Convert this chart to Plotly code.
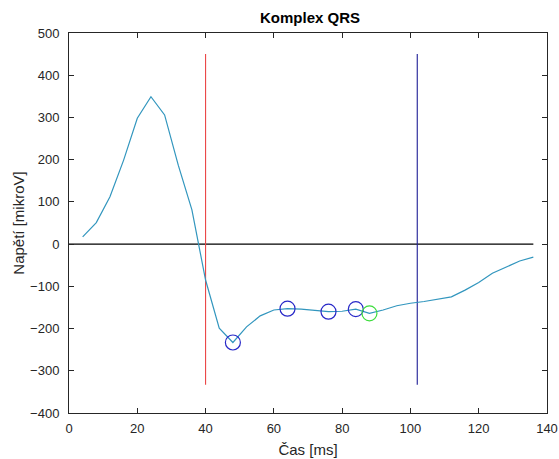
import plotly.graph_objects as go

# ECG QRS complex samples (time in ms, voltage in microvolts)
time_ms = [4, 8, 12, 16, 20, 24, 28, 32, 36, 40, 44, 48, 52, 56, 60, 64, 68, 72,
           76, 80, 84, 88, 92, 96, 100, 104, 108, 112, 116, 120, 124, 128, 132, 136]
voltage = [17, 51, 112, 199, 298, 349, 306, 187, 81, -85, -199, -233, -196, -170,
           -156, -153, -154, -157, -160, -159, -154, -164, -156, -146, -140, -136,
           -130, -125, -109, -91, -69, -54, -40, -31]

# detected points
blue_pts_x = [48, 64, 76, 84]
blue_pts_y = [-233, -153, -160, -154]
green_pts_x = [88]
green_pts_y = [-164]

# QRS onset / offset markers
onset_x = 40
offset_x = 102
marker_ymin = -333
marker_ymax = 450

x_ticks = [0, 20, 40, 60, 80, 100, 120, 140]
y_ticks = [-400, -300, -200, -100, 0, 100, 200, 300, 400, 500]

FONT = "Liberation Sans, Arial, Helvetica"
TXT = "rgb(38,38,38)"

fig = go.Figure()

# zero line
fig.add_trace(go.Scatter(x=[0, time_ms[-1]], y=[0, 0], mode="lines",
                         line=dict(color="black", width=1.2), hoverinfo="skip"))
# onset (red) and offset (blue) vertical lines
fig.add_trace(go.Scatter(x=[onset_x, onset_x], y=[marker_ymin, marker_ymax], mode="lines",
                         line=dict(color="rgb(235,70,70)", width=1.1)))
fig.add_trace(go.Scatter(x=[offset_x, offset_x], y=[marker_ymin, marker_ymax], mode="lines",
                         line=dict(color="rgb(30,30,150)", width=1.1)))
# signal
fig.add_trace(go.Scatter(x=time_ms, y=voltage, mode="lines",
                         line=dict(color="rgb(50,150,190)", width=1.2)))
# markers
fig.add_trace(go.Scatter(x=blue_pts_x, y=blue_pts_y, mode="markers",
                         marker=dict(symbol="circle-open", size=15,
                                     color="rgb(40,40,200)", line=dict(width=1.2))))
fig.add_trace(go.Scatter(x=green_pts_x, y=green_pts_y, mode="markers",
                         marker=dict(symbol="circle-open", size=15,
                                     color="rgb(60,220,60)", line=dict(width=1.2))))

axis_common = dict(showgrid=False, zeroline=False, showline=True, linecolor=TXT,
                   linewidth=1, mirror="ticks", ticks="inside", ticklen=5,
                   tickcolor=TXT, automargin=False,
                   tickfont=dict(family=FONT, size=13, color=TXT))

fig.update_layout(
    width=559, height=459, autosize=False,
    margin=dict(l=69, r=12, t=33, b=46),
    paper_bgcolor="white", plot_bgcolor="white",
    showlegend=False,
    title=dict(text="<b>Komplex QRS</b>", x=310 / 559, xanchor="center",
               y=1 - 18 / 459, yanchor="middle",
               font=dict(family=FONT, size=15, color="black")),
    xaxis=dict(range=[0, 140], tickvals=x_ticks, ticklabelstandoff=3,
               title=dict(text="Čas [ms]", standoff=9,
                          font=dict(family=FONT, size=15, color=TXT)),
               **axis_common),
    yaxis=dict(range=[-400, 500], tickvals=y_ticks, ticklabelstandoff=6,
               title=dict(text="Napětí [mikroV]", standoff=1,
                          font=dict(family=FONT, size=15, color=TXT)),
               **axis_common),
)

fig.write_html(
    "out.html",
    config={"responsive": False, "displayModeBar": False},
    post_script=(
        "document.body.style.margin='0px';"
        "document.body.style.overflow='hidden';"
    ),
)
